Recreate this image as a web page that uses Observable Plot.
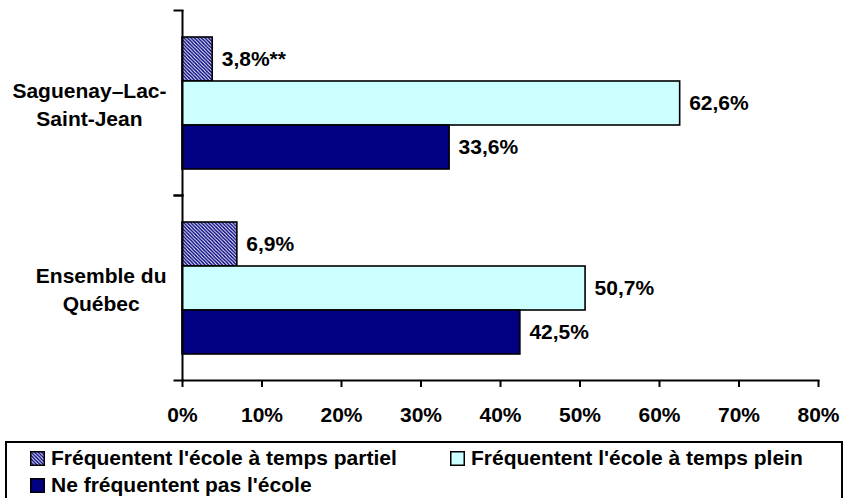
<!DOCTYPE html>
<html>
<head>
<meta charset="utf-8">
<script src="https://cdn.jsdelivr.net/npm/d3@7"></script>
<script src="https://cdn.jsdelivr.net/npm/@observablehq/plot@0.6"></script>
<style>
  body { margin: 0; background: #fff; font-family: "Liberation Sans", Arial, sans-serif; }
  #wrap { position: relative; width: 851px; height: 498px; overflow: hidden; background: #fff; }
  #chart { position: absolute; left: 0; top: 0; }
  #chart g[aria-label="x-axis tick"] { stroke-width: 2px; }
  #legend { position: absolute; left: 5px; top: 441px; width: 838px; height: 80px; border: 2px solid #000; box-sizing: border-box; }
  .item { position: absolute; display: flex; align-items: center; height: 28px; font-size: 21px; font-weight: bold; color: #000; white-space: nowrap; }
  .item svg { margin-right: 6px; flex: none; }
</style>
</head>
<body>
<svg width="0" height="0" style="position:absolute">
  <defs>
    <pattern id="hatch" patternUnits="userSpaceOnUse" width="3.5" height="3.5">
      <rect width="3.5" height="3.5" fill="#ffffff"></rect>
      <path d="M-1,-1 L4.5,4.5 M2.5,-1 L4.5,1 M-1,2.5 L1,4.5" stroke="#000080" stroke-width="1.4"></path>
    </pattern>
  </defs>
</svg>
<div id="wrap">
  <div id="chart"></div>
  <div id="legend"></div>
</div>
<script>
// ---- data ----
const regions = ["Saguenay–Lac-Saint-Jean", "Ensemble du Québec"];
const regionLabels = ["Saguenay–Lac-\nSaint-Jean", "Ensemble du\nQuébec"];
const seriesNames = [
  "Fréquentent l'école à temps partiel",
  "Fréquentent l'école à temps plein",
  "Ne fréquentent pas l'école"
];
const seriesColors = ["url(#hatch)", "#CCFFFF", "#000080"];
const partielValues = [3.8, 6.9];
const partielNotes = ["**", ""];
const pleinValues = [62.6, 50.7];
const pleinNotes = ["", ""];
const nonValues = [33.6, 42.5];
const nonNotes = ["", ""];
const xTicks = [0, 10, 20, 30, 40, 50, 60, 70, 80];

// ---- table ----
const table = regions.flatMap((r, i) => [
  {region: r, series: seriesNames[0], value: partielValues[i], note: partielNotes[i]},
  {region: r, series: seriesNames[1], value: pleinValues[i], note: pleinNotes[i]},
  {region: r, series: seriesNames[2], value: nonValues[i], note: nonNotes[i]}
]);
const labelTable = regions.map((r, i) => ({region: r, label: regionLabels[i]}));
const fmt = (v) => d3.format(".1f")(v).replace(".", ",") + "%";

const W = 851, ML = 182, MR = 33;
const plotW = W - ML - MR;

const chart = Plot.plot({
  width: W,
  height: 436,
  marginLeft: ML,
  marginRight: MR,
  marginTop: 9,
  marginBottom: 56,
  style: {fontFamily: '"Liberation Sans", Arial, sans-serif', fontSize: "21px", fontWeight: "bold", color: "#000", background: "#fff"},
  fy: {domain: regions, padding: 0, axis: null},
  y: {domain: seriesNames, paddingInner: 0, paddingOuter: 0.575, axis: null},
  x: {domain: [0, 80], ticks: xTicks, tickFormat: d => d + "%", tickSize: 7, tickPadding: 20, line: true, label: null},
  color: {domain: seriesNames, range: seriesColors},
  marks: [
    Plot.barX(table, {x1: 0, x2: "value", y: "series", fy: "region", fill: "series", stroke: "#000", strokeWidth: 1.6}),
    Plot.text(table, {x: "value", y: "series", fy: "region", text: d => fmt(d.value) + d.note, textAnchor: "start", dx: 9, fill: "#000"}),
    Plot.text(labelTable, {fy: "region", text: "label", frameAnchor: "left", dx: -16, textAnchor: "end", lineHeight: 1.33, fill: "#000"}),
    Plot.ruleX([0], {stroke: "#000", strokeWidth: 2}),
    Plot.frame({anchor: "top", insetLeft: -8, insetRight: plotW, stroke: "#000", strokeWidth: 2}),
    Plot.frame({anchor: "bottom", insetLeft: -8, insetRight: plotW, stroke: "#000", strokeWidth: 2})
  ]
});
document.getElementById("chart").appendChild(chart);

// center each line of the multi-line region labels within its right-aligned block
chart.querySelectorAll("text").forEach(t => {
  const spans = t.querySelectorAll("tspan");
  if (spans.length < 2) return;
  let maxW = 0;
  spans.forEach(s => { maxW = Math.max(maxW, s.getComputedTextLength()); });
  t.setAttribute("text-anchor", "middle");
  spans.forEach(s => s.setAttribute("x", -maxW / 2));
});
chart.querySelectorAll('g[aria-label="frame"]').forEach(g => g.setAttribute("stroke-width", 2));

// ---- legend ----
const legend = document.getElementById("legend");
const legendPos = [[23, 1], [443, 1], [23, 28]];
seriesNames.forEach((name, i) => {
  const item = document.createElement("div");
  item.className = "item";
  item.style.left = legendPos[i][0] + "px";
  item.style.top = legendPos[i][1] + "px";
  item.innerHTML = `<svg width="15" height="15"><rect x="0.75" y="0.75" width="13.5" height="13.5" fill="${seriesColors[i]}" stroke="#000" stroke-width="1.5"></rect></svg><span></span>`;
  item.querySelector("span").textContent = name;
  legend.appendChild(item);
});
</script>
</body>
</html>
